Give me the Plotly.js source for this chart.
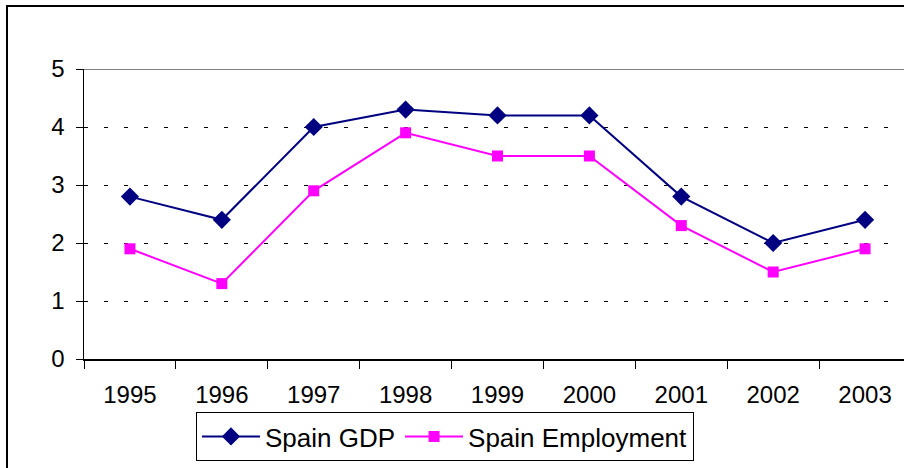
<!DOCTYPE html>
<html>
<head>
<meta charset="utf-8">
<script src="https://cdn.plot.ly/plotly-3.0.1.min.js"></script>
<style>
html, body { margin: 0; padding: 0; overflow: hidden; background: #fff; width: 904px; height: 468px; }
#wrap { position: absolute; left: 6px; top: 5px; border-left: 2px solid #000; border-top: 2px solid #000; }
#chart { width: 913px; height: 472px; }
</style>
</head>
<body>
<div id="wrap"><div id="chart"></div></div>
<script>
var years = ['1995','1996','1997','1998','1999','2000','2001','2002','2003'];
var gdp = [2.8, 2.4, 4.0, 4.3, 4.2, 4.2, 2.8, 2.0, 2.4];
var employment = [1.9, 1.3, 2.9, 3.9, 3.5, 3.5, 2.3, 1.5, 1.9];
var yTicks = [0, 1, 2, 3, 4, 5];

var font = { family: 'Liberation Sans, Arial, sans-serif', size: 24, color: '#000' };
var legendFont = { family: 'Liberation Sans, Arial, sans-serif', size: 26, color: '#000' };

var traces = [
  { x: years, y: gdp, name: 'Spain GDP', type: 'scatter', mode: 'lines+markers',
    line: { color: '#000080', width: 2 },
    marker: { symbol: 'diamond', size: 14, color: '#000080' } },
  { x: years, y: employment, name: 'Spain Employment', type: 'scatter', mode: 'lines+markers',
    line: { color: '#FF00FF', width: 2 },
    marker: { symbol: 'square', size: 11, color: '#FF00FF' } }
];

var layout = {
  width: 913, height: 472,
  margin: { l: 76, r: 10, t: 62, b: 120 },
  paper_bgcolor: '#fff', plot_bgcolor: '#fff',
  font: font,
  showlegend: true,
  legend: { orientation: 'h', x: 0.1354, xanchor: 'left', y: -0.183, yanchor: 'top',
            bordercolor: '#000', borderwidth: 1, font: legendFont, itemwidth: 58,
            tracegroupgap: 0 },
  xaxis: { type: 'category', range: [-0.5, 8.5], showgrid: false, zeroline: false,
           showline: true, linecolor: '#000', linewidth: 1.5,
           ticks: 'outside', tickson: 'boundaries', ticklen: 8, tickcolor: '#000', tickwidth: 1,
           ticklabelstandoff: 14, tickfont: font, fixedrange: true },
  yaxis: { range: [0, 5], tickvals: yTicks, ticktext: yTicks.map(String),
           showgrid: true, gridcolor: '#000', gridwidth: 1, griddash: '4px,16px',
           zeroline: false, showline: true, linecolor: '#000', linewidth: 1.5,
           ticks: 'outside', ticklen: 7, tickcolor: '#000', tickwidth: 1,
           ticklabelstandoff: 6, tickfont: font, fixedrange: true },
  shapes: [
    { type: 'line', xref: 'paper', yref: 'y', x0: 0, x1: 1, y0: 5, y1: 5,
      line: { color: '#808080', width: 2 } }
  ]
};

Plotly.newPlot('chart', traces, layout, { staticPlot: true, displayModeBar: false });
</script>
</body>
</html>
